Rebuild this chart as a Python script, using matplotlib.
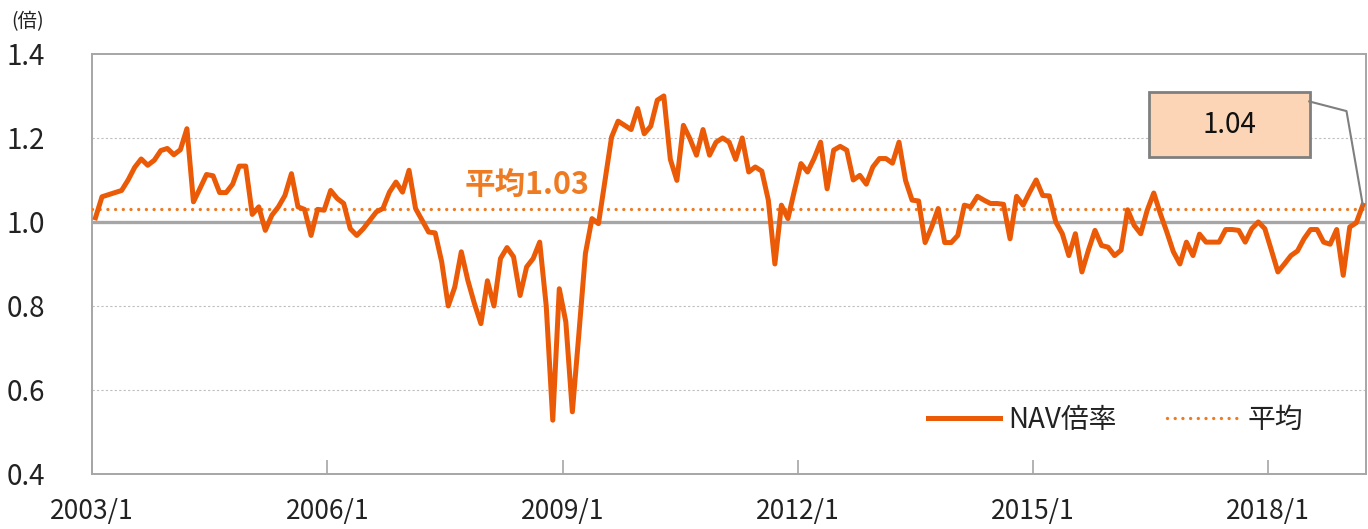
import numpy as np
import matplotlib
matplotlib.use("Agg")
import matplotlib.pyplot as plt
from matplotlib.patches import Rectangle

plt.rcParams['font.family'] = ['Noto Sans CJK JP', 'DejaVu Sans']

# monthly NAV multiple, 2003/1 - 2019/3
nav = [
    1.01, 1.06, 1.065, 1.07, 1.075, 1.10, 1.13, 1.15, 1.135, 1.147, 1.17, 1.175,
    1.16, 1.172, 1.222, 1.048, 1.08, 1.113, 1.11, 1.07, 1.07, 1.09, 1.133, 1.133,
    1.018, 1.036, 0.98, 1.016, 1.036, 1.063, 1.115, 1.036, 1.03, 0.968, 1.03, 1.028,
    1.075, 1.056, 1.044, 0.984, 0.968, 0.984, 1.004, 1.024, 1.032, 1.071, 1.095, 1.071,
    1.123, 1.032, 1.004, 0.976, 0.974, 0.905, 0.80, 0.845, 0.929, 0.861, 0.806, 0.758,
    0.86, 0.80, 0.913, 0.939, 0.917, 0.825, 0.893, 0.913, 0.952, 0.80, 0.528, 0.841,
    0.762, 0.548, 0.734, 0.925, 1.008, 0.996, 1.099, 1.202, 1.24, 1.23, 1.22, 1.27,
    1.21, 1.228, 1.29, 1.30, 1.149, 1.099, 1.23, 1.198, 1.159, 1.22, 1.159, 1.19,
    1.20, 1.19, 1.149, 1.20, 1.119, 1.131, 1.121, 1.052, 0.90, 1.04, 1.008, 1.075,
    1.139, 1.119, 1.151, 1.19, 1.079, 1.171, 1.18, 1.171, 1.10, 1.111, 1.09, 1.131,
    1.151, 1.151, 1.14, 1.19, 1.099, 1.052, 1.05, 0.951, 0.988, 1.032, 0.951, 0.951,
    0.968, 1.04, 1.036, 1.061, 1.052, 1.044, 1.044, 1.042, 0.96, 1.061, 1.04, 1.071,
    1.10, 1.063, 1.062, 1.00, 0.972, 0.92, 0.972, 0.881, 0.933, 0.98, 0.944, 0.94,
    0.92, 0.933, 1.029, 0.992, 0.972, 1.028, 1.069, 1.02, 0.976, 0.929, 0.90, 0.952,
    0.92, 0.971, 0.952, 0.952, 0.952, 0.982, 0.982, 0.98, 0.952, 0.984, 1.00, 0.984,
    0.933, 0.881, 0.90, 0.92, 0.931, 0.96, 0.982, 0.982, 0.952, 0.947, 0.982, 0.873,
    0.988, 0.998, 1.04,
]
avg = 1.03
latest = 1.04
tick_labels = ['2003/1', '2006/1', '2009/1', '2012/1', '2015/1', '2018/1']
y_ticks = [0.4, 0.6, 0.8, 1.0, 1.2, 1.4]

line_c = '#EB5A06'
avg_c = '#EE7B22'
gray = '#A6A6A6'

n = len(nav)
x = np.arange(n)

fig = plt.figure(figsize=(13.68, 5.29), dpi=100)
ax = fig.add_axes([0.0674, 0.104, 0.9312, 0.794])

for v in [0.6, 0.8, 1.2]:
    ax.axhline(v, color='#BFBFBF', lw=0.8, dashes=(2, 2), zorder=1)
ax.axhline(1.0, color=gray, lw=2.4, zorder=2)

ax.plot(x, nav, color=line_c, lw=3.6, solid_joinstyle='round', zorder=4, label='NAV倍率')
ax.plot([-0.5, n - 0.5], [avg, avg], color=avg_c, lw=2.4, linestyle=(0, (0.01, 2.3)),
        dash_capstyle='round', zorder=3, label='平均')

ax.set_xlim(-0.5, n - 0.5)
ax.set_ylim(0.4, 1.4)
ax.set_yticks(y_ticks)
ax.set_yticklabels([f'{v:.1f}' for v in y_ticks])
ax.set_xticks(np.arange(0, n, 36)[:len(tick_labels)] - 0.5)
ax.set_xticklabels(tick_labels)
ax.tick_params(axis='y', length=0, pad=34, labelsize=20, labelcolor='#222222')
ax.tick_params(axis='x', direction='in', length=10, width=1.2, color=gray, pad=17,
               labelsize=19, labelcolor='#222222')
for s in ax.spines.values():
    s.set_color(gray)
    s.set_linewidth(1.4)

fig.text(0.008, 0.96, '(倍)', fontsize=14, color='#222222', va='center')

ax.text(66, 1.087, f'平均{avg:.2f}', color=avg_c, fontsize=22, fontweight='bold',
        ha='center', va='center')

# callout box for the latest value
ax.add_patch(Rectangle((0.8297, 0.754), 0.1265, 0.155, transform=ax.transAxes,
                       facecolor='#FBD5B5', edgecolor='#7F7F7F', lw=2, zorder=5))
ax.text(0.893, 0.8315, f'{latest:.2f}', transform=ax.transAxes, fontsize=20,
        ha='center', va='center', color='#111111', zorder=6)
ax.plot([185.8, 191.5, n - 1], [1.287, 1.264, nav[-1]], color='#7F7F7F', lw=1.5, zorder=5)

leg = ax.legend(loc='center right', bbox_to_anchor=(0.97, 0.128), ncol=2, frameon=False,
                fontsize=20, handlelength=2.6, columnspacing=1.8, handletextpad=0.3)
for t in leg.get_texts():
    t.set_color('#222222')

fig.savefig('out.png', dpi=100)
